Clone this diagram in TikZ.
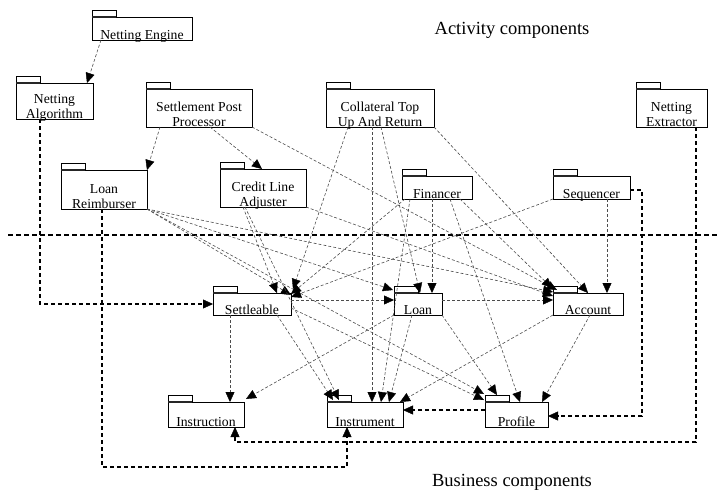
\documentclass[tikz,border=0pt]{standalone}
\usepackage{fontspec}
\setmainfont{Liberation Serif}
\usetikzlibrary{arrows.meta,calc}

% package box: name, x1, y1, x2, y2, text
\newcommand{\pkgbox}[6]{%
  \node[pkg, minimum width={#4-#2}, minimum height={#5-#3}] (#1) at ({(#2+#4)/2},{(#3+#5)/2}) {};
  \draw[tab] (#1.north west) rectangle ++(24,-7);
  \draw[tabline] (#1.north west) -- ++(24,0);
  \node[pkgtext] (#1t) at ([yshift=0.5pt]#1.south) {#6};
}

\begin{document}
\begin{tikzpicture}
  [x=1pt, y=-1pt,
   >={Triangle[length=10pt,width=9pt,color=black,fill=black,line width=0.4pt]},
   pkg/.style={draw, line width=0.8pt, inner sep=0pt, outer sep=0pt},
   tab/.style={draw, line width=0.7pt},
   tabline/.style={line width=1.8pt, black!85},
   pkgtext/.style={anchor=south, inner sep=0pt, align=center, text depth=0pt,
                   font=\fontsize{13.7}{14.5}\selectfont},
   title/.style={inner sep=0pt, font=\fontsize{18.5}{20}\selectfont},
   dep/.style={->, color=black!70, line width=0.6pt, dash pattern=on 3pt off 2pt},
   route/.style={->, color=black, line width=1.1pt, dash pattern=on 4pt off 3pt},
   divider/.style={draw=black, line width=1.1pt, dash pattern=on 5pt off 3pt}
  ]
  \useasboundingbox (0,0) rectangle (718,491);

  % activity components
  \pkgbox{ne}{92}{17}{192}{40}{Netting Engine}
  \pkgbox{na}{16}{83}{93}{119}{Netting\\Algorithm}
  \pkgbox{spp}{146}{89}{252}{127}{Settlement Post\\Processor}
  \pkgbox{ctr}{326}{89}{434}{127}{Collateral Top\\Up And Return}
  \pkgbox{nx}{636}{89}{707}{127}{Netting\\Extractor}
  \pkgbox{lr}{61}{170}{147}{209}{Loan\\Reimburser}
  \pkgbox{cla}{220}{169}{306}{207}{Credit Line\\Adjuster}
  \pkgbox{fin}{402}{176}{472}{199}{Financer}
  \pkgbox{seq}{553}{176}{630}{199}{Sequencer}

  % business components
  \pkgbox{set}{213}{293}{291}{315}{Settleable}
  \pkgbox{loan}{394}{293}{442}{315}{Loan}
  \pkgbox{acc}{553}{293}{623}{315}{Account}
  \pkgbox{ins}{168}{402}{244}{427}{Instruction}
  \pkgbox{inm}{327}{402}{403}{427}{Instrument}
  \pkgbox{pro}{485}{402}{548}{427}{Profile}

  \node[title] (act) at (512,30) {Activity components};
  \node[title] (bus) at (512,482) {Business components};

  \draw[divider] (8,235) -- (718,235);

  % dependencies
  \path[dep]
    ([xshift=9pt]ne.south west) edge ([xshift=-6pt]na.north east)
    ([xshift=14pt]spp.south west) edge (lr.north east)
    ([xshift=64pt]spp.south west) edge ([xshift=42pt]cla.north west)
    (spp.south east) edge ([xshift=4pt,yshift=3pt]acc.north west)

    ([xshift=22pt]ctr.south west) edge ([xshift=2pt,yshift=4pt]set.north east)
    ([xshift=46pt]ctr.south west) edge ([xshift=45pt]inm.north west)
    ([xshift=55pt]ctr.south west) edge ([xshift=26pt]loan.north west)
    (ctr.south east) edge ([xshift=35pt]acc.north west)

    (lr.south east) edge ([yshift=-2pt]set.north east)
    (lr.south east) edge ([xshift=-1pt,yshift=3pt]loan.north west)
    (lr.south east) edge ([yshift=1pt]acc.north west)
    (lr.south east) edge ([xshift=-1pt,yshift=8pt]pro.north west)

    ([xshift=23pt]cla.south west) edge ([xshift=-14pt]set.north east)
    ([xshift=25pt]cla.south west) edge ([xshift=12pt,yshift=2pt]inm.north west)
    (cla.south east) edge ([yshift=-3pt]acc.north west)

    ([xshift=3pt]fin.south west) edge ([yshift=-1pt]set.north east)
    ([xshift=8pt]fin.south west) edge ([xshift=54pt]inm.north west)
    ([xshift=30pt]fin.south west) edge ([xshift=38pt]loan.north west)
    ([xshift=48pt]fin.south west) edge ([xshift=35pt]pro.north west)
    ([xshift=58pt]fin.south west) edge ([xshift=-1pt,yshift=5pt]acc.north west)

    (seq.south west) edge ([yshift=-4pt]set.north east)
    ([xshift=54pt]seq.south west) edge ([xshift=54pt]acc.north west)

    ([yshift=-7pt]set.north east) edge ([yshift=-7pt]loan.north west)
    ([xshift=17pt]set.south west) edge ([xshift=62pt]ins.north west)
    ([xshift=64pt]set.south west) edge ([xshift=6pt,yshift=2pt]inm.north west)
    ([yshift=-15pt]set.north east) edge ([xshift=-1pt,yshift=2pt]pro.north west)

    ([yshift=-7pt]loan.north east) edge ([yshift=-7pt]acc.north west)
    (loan.south west) edge ([xshift=2pt,yshift=3pt]ins.north east)
    ([xshift=18pt]loan.south west) edge ([xshift=62pt]inm.north west)
    (loan.south east) edge ([xshift=12pt,yshift=7pt]pro.north west)

    (acc.south west) edge ([xshift=-3pt]inm.north east)
    ([xshift=37pt]acc.south west) edge ([xshift=-6pt]pro.north east)
    ;

  % routed dependencies
  \draw[route] ([xshift=24pt]na.south west) |- ([yshift=-11pt]set.north west);
  \draw[route] ([xshift=41pt]lr.south west) |- ($(inm.south west)+(20,40)$) -- ([xshift=20pt]inm.south west);
  \draw[route] ([xshift=60pt]nx.south west) |- ($(ins.south west)+(67,15)$) -- ([xshift=67pt]ins.south west);
  \draw[route] ([yshift=-14pt]seq.north east) -| ($(pro.north east)+(94,14)$) -- ([yshift=-14pt]pro.north east);
  \draw[route] ([yshift=-8pt]pro.north west) -- ([yshift=-8pt]inm.north east);
\end{tikzpicture}
\end{document}
